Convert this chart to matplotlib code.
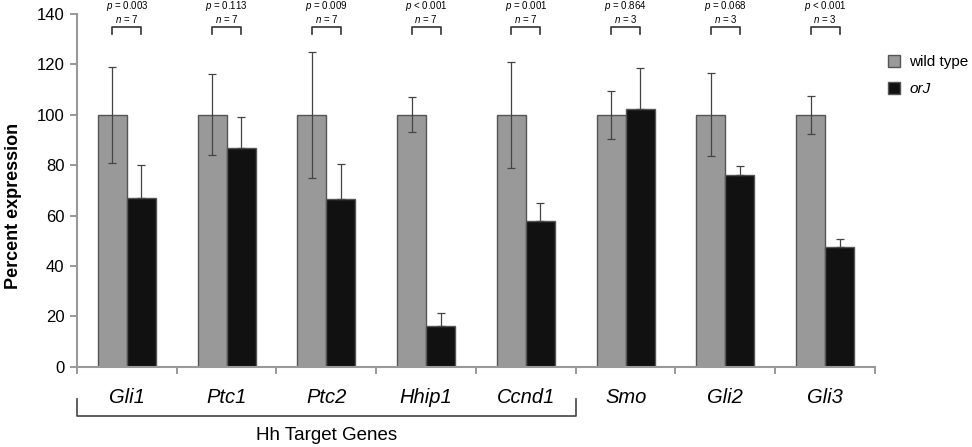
import matplotlib
matplotlib.use("Agg")
import matplotlib.pyplot as plt
import numpy as np

plt.rcParams['font.family'] = ['Liberation Sans', 'DejaVu Sans']
plt.rcParams['mathtext.fontset'] = 'custom'
plt.rcParams['mathtext.rm'] = 'Liberation Sans'
plt.rcParams['mathtext.it'] = 'Liberation Sans:italic'

genes = ['Gli1', 'Ptc1', 'Ptc2', 'Hhip1', 'Ccnd1', 'Smo', 'Gli2', 'Gli3']
wt_vals = [100, 100, 100, 100, 100, 100, 100, 100]
wt_err = [19, 16, 25, 7, 21, 9.5, 16.5, 7.5]
orj_vals = [67, 87, 66.5, 16.3, 58, 102.3, 76, 47.5]
orj_err = [13, 12, 14, 5, 7, 16.3, 3.5, 3]
p_labels = ['= 0.003', '= 0.113', '= 0.009', '< 0.001', '= 0.001', '= 0.864', '= 0.068', '< 0.001']
n_labels = [7, 7, 7, 7, 7, 3, 3, 3]

fig = plt.figure(figsize=(9.72, 4.47), dpi=100)
ax = fig.add_axes([0.0792, 0.1797, 0.821, 0.789])

x = np.arange(len(genes))
w = 0.29
err_kw = dict(ecolor='#444444', elinewidth=0.9, capsize=3, capthick=0.9)

ax.bar(x - w / 2, wt_vals, w, color='#999999', edgecolor='#555555', linewidth=1,
       yerr=wt_err, error_kw=err_kw, label='wild type', zorder=2)
ax.bar(x + w / 2, orj_vals, w, color='#111111', edgecolor='#555555', linewidth=1,
       yerr=[np.zeros(len(orj_err)), orj_err], error_kw=err_kw, label='orJ', zorder=2)

ax.set_xlim(-0.5, len(genes) - 0.5)
ax.set_ylim(0, 140)
ax.set_yticks(range(0, 141, 20))
ax.tick_params(axis='y', labelsize=12, length=5, color='#888888', width=1.2, pad=4)

# ticks between categories, labels in the middle
ax.set_xticks(np.arange(-0.5, len(genes), 1))
ax.set_xticklabels([])
ax.set_xticks(x, minor=True)
ax.set_xticklabels(genes, minor=True, fontsize=14.5, style='italic')
ax.tick_params(axis='x', which='major', length=5, color='#888888', width=1.2)
ax.tick_params(axis='x', which='minor', length=0, pad=15)

for s in ['top', 'right']:
    ax.spines[s].set_visible(False)
for s in ['left', 'bottom']:
    ax.spines[s].set_color('#999999')
    ax.spines[s].set_linewidth(1.5)

ax.set_ylabel('Percent expression', fontsize=13, fontweight='bold')
ax.yaxis.set_label_coords(-0.069, 0.455)

# significance brackets and labels
for i in range(len(genes)):
    x0, x1 = i - w / 2, i + w / 2
    ax.plot([x0, x0, x1, x1], [132, 135, 135, 132], color='#333333', lw=1.2, clip_on=False)
    label = r'$\it{p}$ ' + p_labels[i] + '\n' + r'$\it{n}$ = ' + str(n_labels[i])
    ax.text(i, 140.6, label, ha='center', va='center', fontsize=7, linespacing=1.0,
            multialignment='center', clip_on=False)

# bracket under Hh target genes
ax.plot([-0.5, -0.5, 4.5, 4.5], [-13, -19.5, -19.5, -13], color='#444444', lw=1.2, clip_on=False)
ax.text(2.0, -27.3, 'Hh Target Genes', ha='center', va='center', fontsize=13.5)

leg = ax.legend(loc='upper left', bbox_to_anchor=(888 / 972, 1 - 55 / 447), bbox_transform=fig.transFigure,
                frameon=False, fontsize=11, borderpad=0, borderaxespad=0,
                handlelength=0.8, handleheight=0.8, handletextpad=0.6, labelspacing=0.85)
leg.get_texts()[1].set_style('italic')

fig.savefig('out.png', dpi=100)
